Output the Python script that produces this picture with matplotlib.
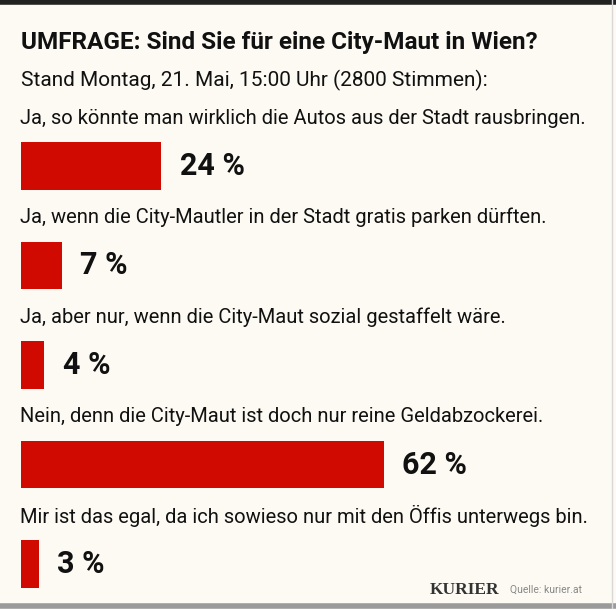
import matplotlib
matplotlib.use("Agg")
import matplotlib.pyplot as plt

plt.rcParams['font.family'] = ['Roboto', 'DejaVu Sans']

title = "UMFRAGE: Sind Sie für eine City-Maut in Wien?"
subtitle = "Stand Montag, 21. Mai, 15:00 Uhr (2800 Stimmen):"
answers = [
    "Ja, so könnte man wirklich die Autos aus der Stadt rausbringen.",
    "Ja, wenn die City-Mautler in der Stadt gratis parken dürften.",
    "Ja, aber nur, wenn die City-Maut sozial gestaffelt wäre.",
    "Nein, denn die City-Maut ist doch nur reine Geldabzockerei.",
    "Mir ist das egal, da ich sowieso nur mit den Öffis unterwegs bin.",
]
percents = [24, 7, 4, 62, 3]

bg = '#fdfaf3'
red = '#d00a00'

fig = plt.figure(figsize=(6.16, 6.09), dpi=100, facecolor=bg)
ax = fig.add_axes([0, 0, 1, 1])
ax.set_facecolor(bg)
ax.set_xlim(-3.59, 101.7)
ax.set_ylim(4.452, -1.668)
ax.axis('off')

ypos = list(range(len(percents)))
ax.barh(ypos, percents, height=0.482, left=0, color=red, edgecolor='none')

for i, (ans, p) in enumerate(zip(answers, percents)):
    ax.text(-0.2, i - 0.48, ans, fontsize=14.5, va='center', ha='left', color='#111111')
    ax.text(p + 3.1, i, f"{p} %", fontsize=22, fontweight='bold', va='center', ha='left', color='#111111')

fig.text(21 / 616, 1 - 42 / 609, title, fontsize=17.5, fontweight='bold', va='center', ha='left', color='#111111')
fig.text(21 / 616, 1 - 80 / 609, subtitle, fontsize=15, va='center', ha='left', color='#111111')

fig.text(430 / 616, 1 - 590 / 609, "KURIER", fontsize=12.5, fontweight='bold', family='Liberation Serif',
         va='center', ha='left', color='#333333')
fig.text(510 / 616, 1 - 590 / 609, "Quelle: kurier.at", fontsize=7.5, va='center', ha='left', color='#888888')

# frame lines: dark top, grey bottom, faint right
fig.add_artist(plt.Line2D([0, 1], [1 - 2 / 609, 1 - 2 / 609], color='#222222', lw=4, transform=fig.transFigure))
fig.add_artist(plt.Line2D([0, 1], [3 / 609, 3 / 609], color='#9a9a9a', lw=4, transform=fig.transFigure))
fig.add_artist(plt.Line2D([1 - 4 / 616, 1 - 4 / 616], [0, 1], color='#d8d8d8', lw=1, transform=fig.transFigure))

fig.savefig('out.png', dpi=100, facecolor=bg)
